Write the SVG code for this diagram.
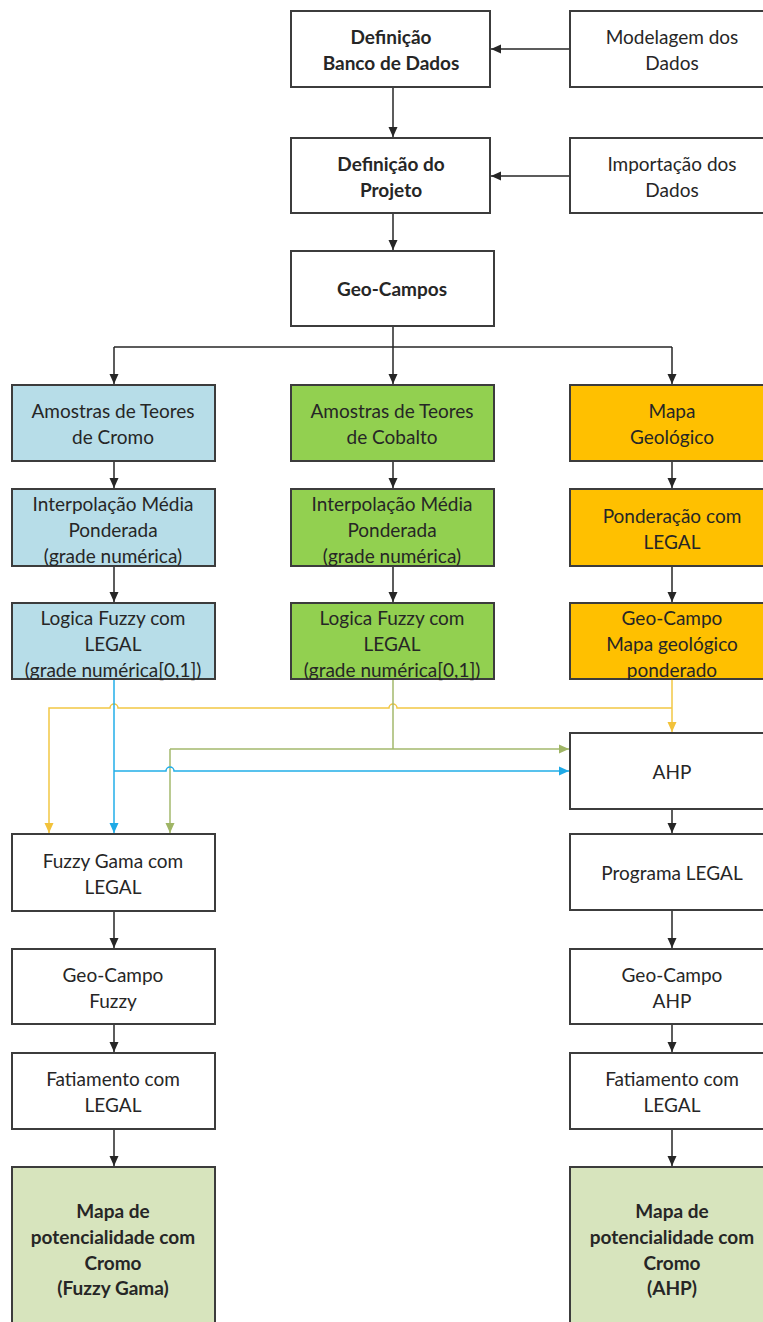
<svg xmlns="http://www.w3.org/2000/svg" width="763" height="1322" viewBox="0 0 763 1322">
<style>
.box{stroke:#3c3c3c;stroke-width:2;fill:#ffffff}
.blue{fill:#b7dde8}
.grn{fill:#92d050}
.org{fill:#ffc000}
.fin{fill:#d7e4bd}
.t{font-family:Lato,"Liberation Sans",sans-serif;font-size:19px;fill:#262626;text-anchor:middle;dominant-baseline:central}
.b{font-weight:bold}
.k{stroke:#262626;stroke-width:1.5;fill:none}
.ky{stroke:#f2c744;stroke-width:1.5;fill:none}
.kg{stroke:#a3b86c;stroke-width:1.5;fill:none}
.kb{stroke:#22aee8;stroke-width:1.5;fill:none}
</style>
<defs>
<marker id="ak" markerUnits="userSpaceOnUse" markerWidth="10" markerHeight="10" refX="10" refY="5" orient="auto"><path d="M0,0.5 L10,5 L0,9.5 z" fill="#262626"/></marker>
<marker id="ay" markerUnits="userSpaceOnUse" markerWidth="10" markerHeight="10" refX="10" refY="5" orient="auto"><path d="M0,0.5 L10,5 L0,9.5 z" fill="#f2c23a"/></marker>
<marker id="ag" markerUnits="userSpaceOnUse" markerWidth="10" markerHeight="10" refX="10" refY="5" orient="auto"><path d="M0,0.5 L10,5 L0,9.5 z" fill="#9fb565"/></marker>
<marker id="ab" markerUnits="userSpaceOnUse" markerWidth="10" markerHeight="10" refX="10" refY="5" orient="auto"><path d="M0,0.5 L10,5 L0,9.5 z" fill="#1ea9e6"/></marker>
</defs>
<rect width="763" height="1322" fill="#ffffff"/>

<g id="connectors">
<path class="k" d="M570,49 H491" marker-end="url(#ak)"/>
<path class="k" d="M393,87 V137" marker-end="url(#ak)"/>
<path class="k" d="M570,176 H491" marker-end="url(#ak)"/>
<path class="k" d="M393,213 V250" marker-end="url(#ak)"/>
<path class="k" d="M393,326 V384" marker-end="url(#ak)"/>
<path class="k" d="M114,347 H672"/>
<path class="k" d="M114,347 V384" marker-end="url(#ak)"/>
<path class="k" d="M672,347 V384" marker-end="url(#ak)"/>
<path class="k" d="M114,461 V488" marker-end="url(#ak)"/>
<path class="k" d="M393,461 V488" marker-end="url(#ak)"/>
<path class="k" d="M672,461 V488" marker-end="url(#ak)"/>
<path class="k" d="M114,566 V602" marker-end="url(#ak)"/>
<path class="k" d="M393,566 V602" marker-end="url(#ak)"/>
<path class="k" d="M672,566 V602" marker-end="url(#ak)"/>
<path class="ky" d="M672,679 V732" marker-end="url(#ay)"/>
<path class="ky" d="M672,708 H397 a4,4 0 0 0 -8,0 H118 a4,4 0 0 0 -8,0 H49 V833" marker-end="url(#ay)"/>
<path class="kg" d="M393,679 V749"/>
<path class="kg" d="M170,749 H569" marker-end="url(#ag)"/>
<path class="kg" d="M170,749 V833" marker-end="url(#ag)"/>
<path class="kb" d="M114,679 V833" marker-end="url(#ab)"/>
<path class="kb" d="M114,771 H166 a4,4 0 0 1 8,0 H569" marker-end="url(#ab)"/>
<path class="k" d="M672,809 V833" marker-end="url(#ak)"/>
<path class="k" d="M672,910 V948" marker-end="url(#ak)"/>
<path class="k" d="M672,1024 V1052" marker-end="url(#ak)"/>
<path class="k" d="M672,1129 V1166" marker-end="url(#ak)"/>
<path class="k" d="M114,911 V948" marker-end="url(#ak)"/>
<path class="k" d="M114,1024 V1052" marker-end="url(#ak)"/>
<path class="k" d="M114,1129 V1166" marker-end="url(#ak)"/>
</g>

<g id="n-defbanco"><rect class="box" x="291" y="11" width="199" height="76"/>
<text class="t b" x="391" y="36">Definição</text><text class="t b" x="391" y="62">Banco de Dados</text></g>
<g id="n-modelagem"><rect class="box" x="570" y="11" width="204" height="76"/>
<text class="t" x="672" y="36">Modelagem dos</text><text class="t" x="672" y="62">Dados</text></g>
<g id="n-defprojeto"><rect class="box" x="291" y="138" width="199" height="75"/>
<text class="t b" x="391" y="163">Definição do</text><text class="t b" x="391" y="189">Projeto</text></g>
<g id="n-importacao"><rect class="box" x="570" y="138" width="204" height="75"/>
<text class="t" x="672" y="163">Importação dos</text><text class="t" x="672" y="189">Dados</text></g>
<g id="n-geocampos"><rect class="box" x="291" y="251" width="203" height="75"/>
<text class="t b" x="392" y="288">Geo-Campos</text></g>

<g id="n-amcromo"><rect class="box blue" x="12" y="385" width="203" height="76"/>
<text class="t" x="113" y="410">Amostras de Teores</text><text class="t" x="113" y="436">de Cromo</text></g>
<g id="n-amcobalto"><rect class="box grn" x="291" y="385" width="203" height="76"/>
<text class="t" x="392" y="410">Amostras de Teores</text><text class="t" x="392" y="436">de Cobalto</text></g>
<g id="n-mapageo"><rect class="box org" x="570" y="385" width="204" height="76"/>
<text class="t" x="672" y="410">Mapa</text><text class="t" x="672" y="436">Geológico</text></g>

<g id="n-intcromo"><rect class="box blue" x="12" y="489" width="203" height="77"/>
<text class="t" x="113" y="503">Interpolação Média</text><text class="t" x="113" y="529">Ponderada</text><text class="t" x="113" y="555">(grade numérica)</text></g>
<g id="n-intcobalto"><rect class="box grn" x="291" y="489" width="203" height="77"/>
<text class="t" x="392" y="503">Interpolação Média</text><text class="t" x="392" y="529">Ponderada</text><text class="t" x="392" y="555">(grade numérica)</text></g>
<g id="n-ponderacao"><rect class="box org" x="570" y="489" width="204" height="77"/>
<text class="t" x="672" y="515">Ponderação com</text><text class="t" x="672" y="541">LEGAL</text></g>

<g id="n-fuzzycromo"><rect class="box blue" x="12" y="603" width="203" height="76"/>
<text class="t" x="113" y="617">Logica Fuzzy com</text><text class="t" x="113" y="643">LEGAL</text><text class="t" x="113" y="669">(grade numérica[0,1])</text></g>
<g id="n-fuzzycobalto"><rect class="box grn" x="291" y="603" width="203" height="76"/>
<text class="t" x="392" y="617">Logica Fuzzy com</text><text class="t" x="392" y="643">LEGAL</text><text class="t" x="392" y="669">(grade numérica[0,1])</text></g>
<g id="n-geocampopond"><rect class="box org" x="570" y="603" width="204" height="76"/>
<text class="t" x="672" y="617">Geo-Campo</text><text class="t" x="672" y="643">Mapa geológico</text><text class="t" x="672" y="669">ponderado</text></g>

<g id="n-ahp"><rect class="box" x="570" y="733" width="204" height="76"/>
<text class="t" x="672" y="771">AHP</text></g>
<g id="n-fuzzygama"><rect class="box" x="12" y="834" width="203" height="77"/>
<text class="t" x="113" y="860">Fuzzy Gama com</text><text class="t" x="113" y="886">LEGAL</text></g>
<g id="n-programa"><rect class="box" x="570" y="834" width="204" height="76"/>
<text class="t" x="672" y="872">Programa LEGAL</text></g>
<g id="n-geofuzzy"><rect class="box" x="12" y="949" width="203" height="75"/>
<text class="t" x="113" y="974">Geo-Campo</text><text class="t" x="113" y="1000">Fuzzy</text></g>
<g id="n-geoahp"><rect class="box" x="570" y="949" width="204" height="75"/>
<text class="t" x="672" y="974">Geo-Campo</text><text class="t" x="672" y="1000">AHP</text></g>
<g id="n-fatfuzzy"><rect class="box" x="12" y="1053" width="203" height="76"/>
<text class="t" x="113" y="1078">Fatiamento com</text><text class="t" x="113" y="1104">LEGAL</text></g>
<g id="n-fatahp"><rect class="box" x="570" y="1053" width="204" height="76"/>
<text class="t" x="672" y="1078">Fatiamento com</text><text class="t" x="672" y="1104">LEGAL</text></g>
<g id="n-mapafuzzy"><rect class="box fin" x="12" y="1167" width="203" height="170"/>
<text class="t b" x="113" y="1210">Mapa de</text><text class="t b" x="113" y="1236">potencialidade com</text><text class="t b" x="113" y="1262">Cromo</text><text class="t b" x="113" y="1287">(Fuzzy Gama)</text></g>
<g id="n-mapaahp"><rect class="box fin" x="570" y="1167" width="204" height="170"/>
<text class="t b" x="672" y="1210">Mapa de</text><text class="t b" x="672" y="1236">potencialidade com</text><text class="t b" x="672" y="1262">Cromo</text><text class="t b" x="672" y="1287">(AHP)</text></g>
</svg>
